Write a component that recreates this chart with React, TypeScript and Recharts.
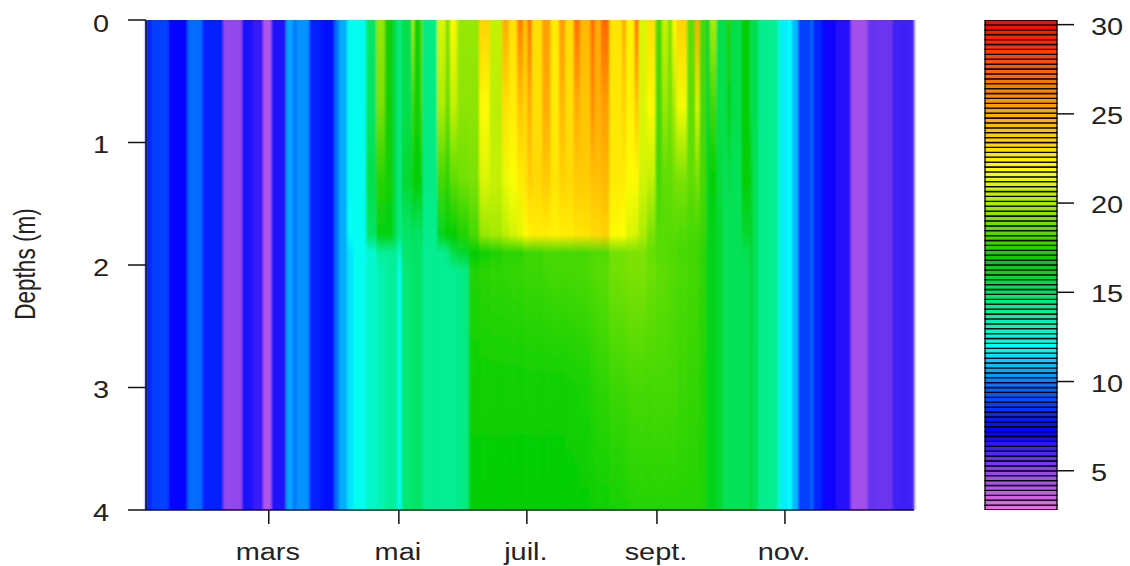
import React from "react";
import { BarChart, Bar, Cell, XAxis, YAxis } from "recharts";

// Last day of year covered by each vertical stripe of the section
const stripeEndDay = [3,11,20,27,37,46,51,56,60,67,70,72,78,83,90,92,96,
  99,105,110,114,118,120,122,127,128,131,132,139,143,145,148,149,154,
  159,164,170,173,177,180,182,184,189,193,197,200,204,207,212,214,217,221,227,229,233,235,239,243,246,249,251,253,258,262,264,267,
  269,272,275,277,279,284,288,289,292,
  301,303,306,308,311,317,318,322,329,336,344,349,356,361,366];

const mixedWinter = [8,8.6,7.3,9.6,7.8,5,6.9,6.4,4.3,6.8,10.5,9.8,10.2,7.9,7.6,9.6,10.6];
const mixedAutumn = [14.3,12.8,11.6,12,10.8,8.6,9.7,8,7.1,6.7,4.6,5.7,5.6,6.3,6.3];

const temp0m = [...mixedWinter,
  12.2,12.2,15,19.5,17,15.5,14.5,15.5,20.5,17,18.5,14.5,21,19,22,20.5,19.5,
  19.5,23.5,20.5,25,23,26.5,24,27,23,25.5,22.5,25.5,23,27,24.5,27.2,25,27.3,22.8,25,22.3,27,21,23,18,20.5,19,22,23.5,18.5,25,18,
  16,20,15.5,15.5,17.3,15.5,16.8,15.5,15.5, ...mixedAutumn];
const temp07m = [...mixedWinter,
  12.2,12.2,15,19,17,15.5,14.5,15.5,18,17,18,14.5,20,18.5,20.5,20,19.3,
  19.3,22,20.3,23,22.5,24,23.3,25,23,25,22.5,24.5,23,25,24,26,24.8,25.5,22.7,23.5,22.3,24,21,22,18,19.5,18.8,20,21.5,18.5,21,18,
  16,18,15.5,15.5,16.5,15.5,16.8,15.5,15.5, ...mixedAutumn];
const temp13m = [...mixedWinter,
  12.2,12.2,15.5,17.5,17,15.5,14.5,16,17,16.8,17,14.5,18,17.5,18.5,18.5,18.8,
  19,21,20.5,21.3,21.7,22.5,22.8,23.8,23.3,23.8,22.8,23.5,23.3,23.8,23.8,24.2,24.2,24.5,22.6,22.5,22,22,20.8,20.5,18,18.5,18.5,18.8,19,18.5,19,18,
  16.3,16.8,15.8,15.3,15.5,15.3,16.8,16.5,15.3, ...mixedAutumn];
const temp175m = [...mixedWinter,
  12,12.2,15,16.5,16.5,15.5,14.5,15,15.5,15,15.5,14.3,16.3,16.8,16.8,17,17.3,
  18,19.5,19.8,20.3,20.8,21.2,22,22.3,22.5,22.5,22.3,22.5,22.5,22.8,22.8,23.2,23.2,23.5,22,21.8,21,20.8,20,19,18.3,18.3,18.3,18.3,18.2,18,18,17.8,
  16.3,16.4,16,15.3,15.3,15.3,16,16.5,15.3, ...mixedAutumn];
const temp19m = [...mixedWinter,
  11.5,12.2,12.8,14,14,14.2,13,15,15,15,15,14.2,14.3,14.5,15.5,15.7,16,
  16.8,17,17.3,17.5,17.5,17.5,17.8,17.8,17.8,18,18,18,18,18,18,18.2,18.2,18.2,18.8,18.8,19,19,19,18.6,18.3,18.3,18.2,18.2,18,18,17.8,17.6,
  16.3,16.4,16,15.3,15.3,15.3,15.4,16.5,15.3, ...mixedAutumn];
const temp205m = [...mixedWinter,
  11.5,12.2,13,13.5,14,14,12.3,14.8,15,15,15,14.2,14.2,14.2,14.2,14.2,14.5,
  17.3,17.5,17.6,17.6,17.7,17.7,17.8,17.8,17.8,17.9,18,18,18,18,18.1,18.2,18.3,18.4,18.8,18.9,19,19,19,18.7,18.5,18.4,18.3,18.2,18.1,18,17.9,17.6,
  16.3,16.4,16,15.3,15.3,15.3,15.3,16.4,15.3, ...mixedAutumn];
const temp3m = [...mixedWinter,
  11.5,12.2,13,13.5,14,14,12.3,14.8,15,15,15,14.2,14.2,14.2,14.2,14.2,14.5,
  17,17,17,17,17,17,17,17,17,17,17,17,17.05,17.1,17.2,17.4,17.5,17.6,17.8,17.8,18,18,18,18,18,18,18,18,17.8,17.7,17.6,17.4,
  16.3,16.4,16,15.3,15.3,15.3,15.3,16.3,15.3, ...mixedAutumn];
const temp4m = [...mixedWinter,
  11.5,12.2,13,13.5,14,14,12.3,14.8,15,15,15,14.2,14.2,14.2,14.2,14.2,14.5,
  16.8,16.8,16.8,16.8,16.8,16.8,16.8,16.8,16.8,16.8,16.8,16.8,16.8,16.8,16.85,16.9,17,17,17.1,17.2,17.3,17.4,17.4,17.4,17.4,17.4,17.4,17.4,17.4,17.4,17.4,17.3,
  16.3,16.4,16,15.3,15.3,15.3,15.3,16.3,15.3, ...mixedAutumn];

const depthLevels = [0, 0.7, 1.3, 1.75, 1.9, 2.05, 3, 4];
const levelTemps = [temp0m, temp07m, temp13m, temp175m, temp19m, temp205m, temp3m, temp4m];

const depthTicks = [0, 1, 2, 3, 4];
const monthDays = [59, 121, 182, 244, 305];
const monthLabels = ["mars", "mai", "juil.", "sept.", "nov."];
const legendTicks = [5, 10, 15, 20, 25, 30];
const legendMin = 2.8;
const legendMax = 30.26;
const legendBandCount = 100;

// Colour scale: temperature, red, green, blue
const paletteStops: number[][] = [
  [2.8, 235, 110, 225], [5, 145, 70, 235], [7.2, 0, 0, 255], [9.5, 0, 100, 255],
  [11.9, 0, 255, 255], [14.5, 0, 235, 130], [16.8, 0, 205, 0], [19.5, 150, 230, 0],
  [21.8, 255, 255, 0], [25, 255, 170, 0], [27, 255, 110, 0], [30.3, 255, 0, 0],
];

function tempColor(t: number): string {
  let i = 0;
  while (i < paletteStops.length - 2 && t > paletteStops[i + 1][0]) i++;
  const a = paletteStops[i];
  const b = paletteStops[i + 1];
  const f = Math.max(0, Math.min(1, (t - a[0]) / (b[0] - a[0])));
  const c = [1, 2, 3].map((k) => Math.round(a[k] + (b[k] - a[k]) * f));
  return `rgb(${c[0]},${c[1]},${c[2]})`;
}

const rows: { day: number; column: number; stripe: number }[] = [];
{
  let s = 0;
  for (let d = 1; d <= 366; d++) {
    while (d > stripeEndDay[s]) s++;
    rows.push({ day: d, column: 4, stripe: s });
  }
}

const legendRow: Record<string, number | string> = { name: "legend", base: legendMin };
const legendBands: { key: string; color: string }[] = [];
{
  const h = (legendMax - legendMin) / legendBandCount;
  for (let i = 0; i < legendBandCount; i++) {
    const key = `b${i}`;
    legendRow[key] = h;
    legendBands.push({ key, color: tempColor(legendMin + h * (i + 0.5)) });
  }
}

const FONT = '"Liberation Sans", Arial, sans-serif';
const INK = "#222";
const FONT_SIZE = 24.5;
const STRETCH = 1.18;

const stretchedText = (x: number, y: number, label: string | number, anchor: string) => (
  <text
    transform={`translate(${x},${y}) scale(${STRETCH},1)`}
    textAnchor={anchor}
    fontFamily={FONT}
    fontSize={FONT_SIZE}
    fill={INK}
  >
    {label}
  </text>
);

const DepthTick = (p: any) =>
  stretchedText(101, p.y + (p.payload.value === 0 ? 12 : 10.5), p.payload.value, "middle");
const MonthTick = (p: any) =>
  stretchedText(p.x - 1, 560, monthLabels[monthDays.indexOf(p.payload.value)], "middle");
const LegendTick = (p: any) => stretchedText(1091 - 930, p.y + 10, p.payload.value, "start");

const DepthLabel = () => (
  <text
    transform="translate(35,264) scale(1.3,1) rotate(-90)"
    textAnchor="middle"
    fontFamily={FONT}
    fontSize={22.6}
    fill={INK}
  >
    Depths (m)
  </text>
);

export default function App() {
  return (
    <div style={{ position: "absolute", left: 0, top: 0, width: 1130, height: 566, background: "#fff" }}>
      <style>{`.section .recharts-bar-rectangles{filter:url(#soft)}`}</style>
      <div className="section" style={{ position: "absolute", left: 0, top: 0 }}>
        <BarChart
          width={930}
          height={566}
          data={rows}
          barCategoryGap={0}
          barGap={0}
          margin={{ top: 20, right: 16, bottom: 0, left: 86 }}
        >
          <defs>
            <filter id="soft" x="-2%" y="0" width="104%" height="100%">
              <feGaussianBlur stdDeviation="0.9 0.4" />
            </filter>
            {stripeEndDay.map((_, s) => (
              <linearGradient key={s} id={`stripe${s}`} x1="0" y1="0" x2="0" y2="1">
                {depthLevels.map((d, l) => (
                  <stop key={l} offset={d / 4} stopColor={tempColor(levelTemps[l][s])} />
                ))}
              </linearGradient>
            ))}
          </defs>
          <XAxis
            dataKey="day"
            type="category"
            ticks={monthDays}
            interval={0}
            height={56}
            tickSize={14}
            tick={MonthTick}
            stroke="#111"
            strokeWidth={1.5}
          />
          <XAxis xAxisId="top" orientation="top" dataKey="day" type="category" height={0} tick={false} tickLine={false} stroke="#111" strokeWidth={1.5} />
          <YAxis
            type="number"
            domain={[0, 4]}
            reversed
            ticks={depthTicks}
            width={60}
            tickSize={18}
            tick={DepthTick}
            stroke="#111"
            strokeWidth={1.5}
            label={{ content: DepthLabel } as any}
          />
          <YAxis yAxisId="right" orientation="right" type="number" domain={[0, 4]} width={0} tick={false} tickLine={false} stroke="#111" strokeWidth={1.5} />
          <Bar dataKey="column" isAnimationActive={false}>
            {rows.map((r) => (
              <Cell key={r.day} fill={`url(#stripe${r.stripe})`} stroke={`url(#stripe${r.stripe})`} strokeWidth={0.8} />
            ))}
          </Bar>
        </BarChart>
      </div>
      <div style={{ position: "absolute", left: 930, top: 0 }}>
        <BarChart
          width={200}
          height={566}
          data={[legendRow]}
          barCategoryGap={0}
          margin={{ top: 20, right: 0, bottom: 56, left: 55 }}
        >
          <XAxis dataKey="name" hide />
          <YAxis
            orientation="right"
            type="number"
            domain={[legendMin, legendMax]}
            allowDataOverflow
            ticks={legendTicks}
            width={73}
            tickSize={17}
            tick={LegendTick}
            stroke="#111"
            axisLine={false}
            strokeWidth={1.5}
          />
          <Bar dataKey="base" stackId="legend" fill="none" stroke="none" isAnimationActive={false} />
          {legendBands.map((b) => (
            <Bar
              key={b.key}
              dataKey={b.key}
              stackId="legend"
              fill={b.color}
              stroke="#000"
              strokeWidth={1.3}
              isAnimationActive={false}
            />
          ))}
        </BarChart>
      </div>
    </div>
  );
}
